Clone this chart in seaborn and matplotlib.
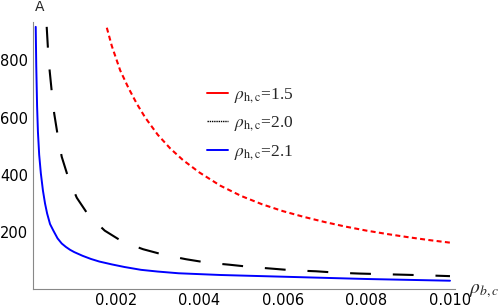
import matplotlib
matplotlib.use("Agg")
import matplotlib.pyplot as plt
from matplotlib.lines import Line2D
import seaborn as sns
import pandas as pd

# --- data ---
x_red = [0.00178, 0.0019, 0.0021, 0.0023, 0.0025, 0.0027, 0.0030, 0.0033, 0.0036,
         0.0040, 0.0045, 0.0050, 0.0055, 0.0060, 0.0065, 0.0070, 0.0075, 0.0080,
         0.0085, 0.0090, 0.0095, 0.0100]
y_red = [914, 850, 765, 703, 648, 600, 540, 492, 452, 408, 362, 326, 297, 273,
         253, 235, 219, 205, 193, 182, 172, 163]

x_black = [0.00034, 0.00037, 0.00041, 0.00046, 0.00052, 0.0006, 0.0007, 0.00085,
           0.00106, 0.00134, 0.00173, 0.00216, 0.00265, 0.00316, 0.00368, 0.00419,
           0.00471, 0.00523, 0.00575, 0.00626, 0.00679, 0.0073, 0.00783, 0.00834,
           0.00887, 0.00938, 0.0100]
y_black = [917, 841, 765, 692, 614, 541, 463, 393, 320, 259, 205, 166, 140, 120,
           105, 93, 86, 78, 72, 66, 63, 58, 55, 53, 51, 49, 46]

x_blue = [0.000077, 0.00009, 0.00011, 0.00013, 0.00016, 0.0002, 0.00025, 0.0003,
          0.00035, 0.00042, 0.0005, 0.0006, 0.0007, 0.0008, 0.0009, 0.0010, 0.0012,
          0.0014, 0.0016, 0.0019, 0.0022, 0.0026, 0.0030, 0.0035, 0.0040, 0.0045,
          0.0050, 0.0060, 0.0070, 0.0080, 0.0090, 0.0100]
y_blue = [917, 780, 640, 550, 470, 405, 345, 300, 265, 228, 205, 178, 160, 148,
          138, 130, 117, 106, 97, 87, 78, 68, 62, 56, 53, 50, 48, 44, 40, 36, 33, 30]

legend_labels = [r'$\rho_{\mathrm{h,c}}$=1.5', r'$\rho_{\mathrm{h,c}}$=2.0', r'$\rho_{\mathrm{h,c}}$=2.1']
x_ticks = [0.002, 0.004, 0.006, 0.008, 0.010]
x_ticklabels = ["0.002", "0.004", "0.006", "0.008", "0.010"]
y_ticks = [200, 400, 600, 800]

sns.set_style("white")
plt.rcParams['font.family'] = ['DejaVu Sans']
plt.rcParams['mathtext.fontset'] = 'stix'

fig = plt.figure(figsize=(4.98, 3.08), dpi=100)
ax = fig.add_axes([32.5/498, (308-289.3)/308, (455-32.5)/498, (289.3-21.7)/308])

df_r = pd.DataFrame({"x": x_red, "y": y_red})
df_k = pd.DataFrame({"x": x_black, "y": y_black})
df_b = pd.DataFrame({"x": x_blue, "y": y_blue})

sns.lineplot(data=df_r, x="x", y="y", ax=ax, color="#ff0000", lw=1.5,
             linestyle=(0, (2.4, 1.6)), errorbar=None)
sns.lineplot(data=df_k, x="x", y="y", ax=ax, color="black", lw=1.5,
             linestyle=(0, (10, 10.5)), errorbar=None)
sns.lineplot(data=df_b, x="x", y="y", ax=ax, color="#0000ff", lw=1.4,
             errorbar=None)

ax.set_xlim(0, 0.01012)
ax.set_ylim(0, 935)

for s in ["top", "right"]:
    ax.spines[s].set_visible(False)
for s in ["left", "bottom"]:
    ax.spines[s].set_color("#888888")
    ax.spines[s].set_linewidth(0.8)

ax.set_xticks(x_ticks)
ax.set_xticklabels(x_ticklabels)
ax.set_yticks(y_ticks)
ax.set_xticks([i * 0.0005 for i in range(1, 21)], minor=True)
ax.set_yticks([i * 50 for i in range(1, 19)], minor=True)
ax.tick_params(which="major", direction="in", length=4.5, width=0.8, color="#888888",
               labelsize=10.5, labelcolor="black", pad=3)
ax.tick_params(which="minor", direction="in", length=2.5, width=0.6, color="#888888")

ax.set_xlabel(r'$\rho_{b,c}$', fontsize=14)
ax.xaxis.set_label_coords((484-32.5)/422.5, (289.3-291)/267.6)
ax.xaxis.label.set_va("center")
ax.set_ylabel("A", rotation=0, fontsize=10)
ax.yaxis.set_label_coords((40-32.5)/422.5, (289.3-7)/267.6)
ax.yaxis.label.set_va("center")
ax.yaxis.label.set_ha("center")

handles = [Line2D([], [], color="#ff0000", lw=1.4),
           Line2D([], [], color="black", lw=1.0, linestyle=(0, (1, 0.6))),
           Line2D([], [], color="#0000ff", lw=1.4)]
ax.legend(handles, legend_labels, loc="upper left",
          bbox_to_anchor=(207/498, 1-86/308), bbox_transform=fig.transFigure,
          frameon=False, handlelength=1.2, handletextpad=0.35, labelspacing=0.55,
          borderpad=0, borderaxespad=0,
          prop={"family": "Liberation Serif", "size": 12.5})

fig.savefig("out.png", dpi=100)
